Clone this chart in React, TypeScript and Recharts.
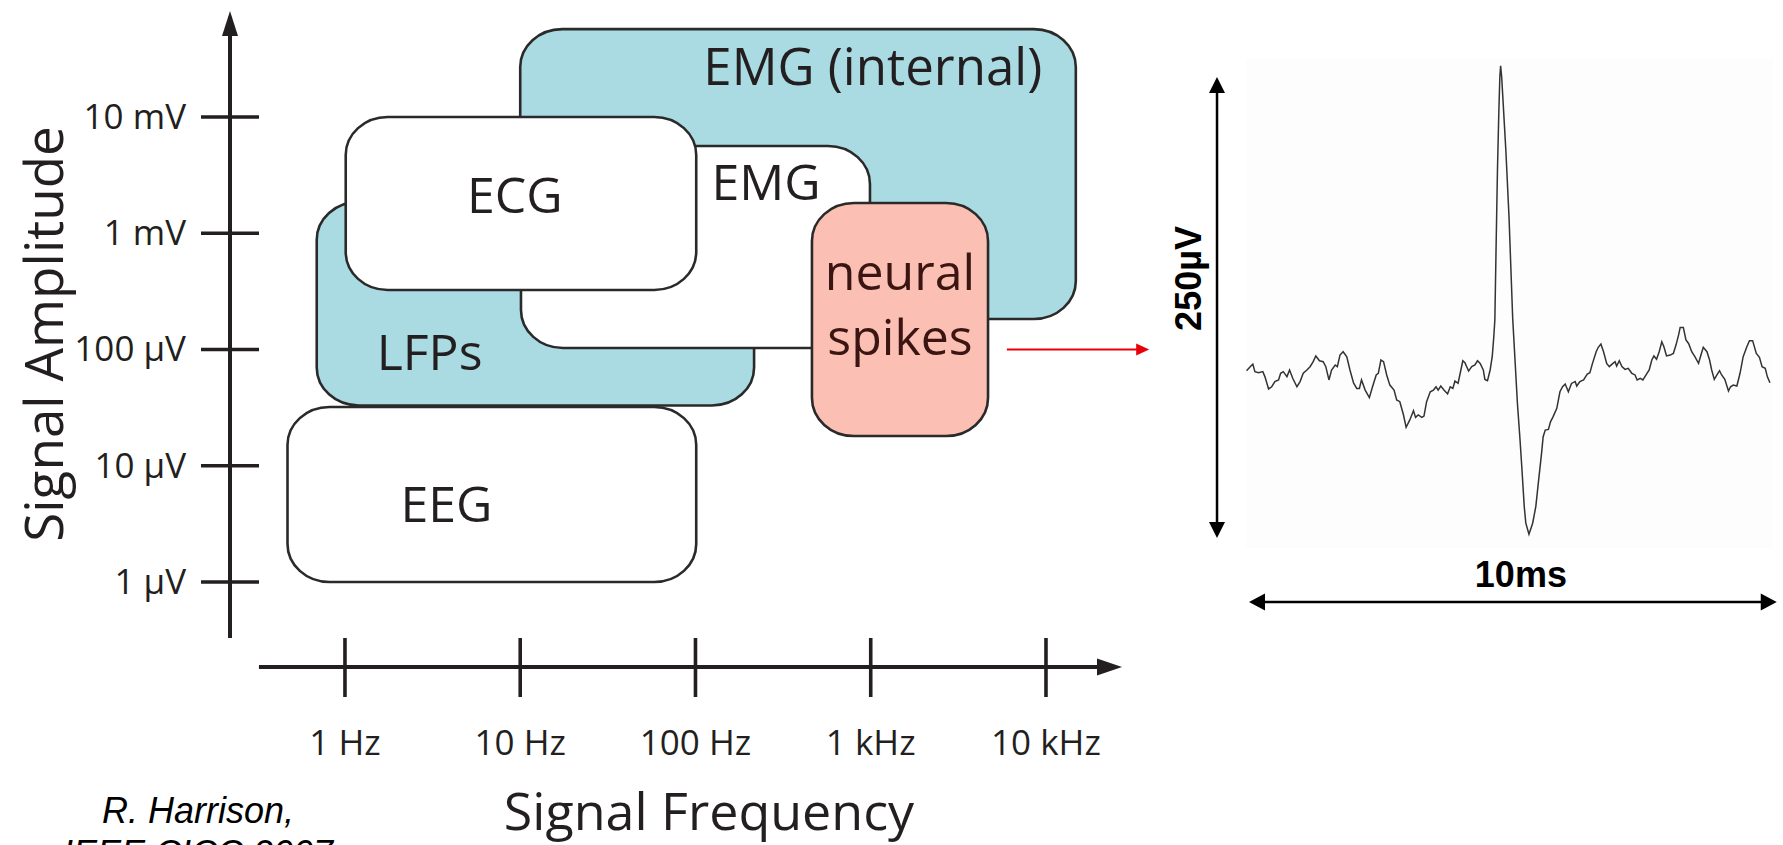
import React from "react";
import {
  ComposedChart,
  LineChart,
  Line,
  XAxis,
  YAxis,
  ReferenceArea,
  ReferenceLine
} from "recharts";

// axis ticks (log scales)
const freqTicks = [1, 10, 100, 1000, 10000];
const freqTickLabels = ["1 Hz", "10 Hz", "100 Hz", "1 kHz", "10 kHz"];
const ampTicks = [1, 10, 100, 1000, 10000]; // in µV
const ampTickLabels = ["1 μV", "10 μV", "100 μV", "1 mV", "10 mV"];

// signal bands, drawn in this order (later ones sit on top)
const bandNames = ["EMG (internal)", "LFPs", "EMG", "ECG", "EEG", "neural spikes"];
const bandFreqLo = [10, 0.69, 10.1, 1.01, 0.47, 462];
const bandFreqHi = [14800, 216, 990, 101, 101, 4670];
const bandAmpLo = [183, 33, 103, 325, 1, 18];
const bandAmpHi = [57000, 1860, 5630, 10000, 32, 1820];

// recorded spike, 10 ms window
const spikeTimeMs = [
  0.01, 0.08, 0.13, 0.17, 0.24, 0.32, 0.36, 0.43, 0.49, 0.55, 0.62, 0.66, 0.71, 0.78, 0.83, 0.89,
  0.97, 1.03, 1.09, 1.16, 1.22, 1.28, 1.33, 1.4, 1.47, 1.52, 1.58, 1.63, 1.7, 1.74, 1.79, 1.85,
  1.92, 1.98, 2.05, 2.11, 2.16, 2.2, 2.27, 2.35, 2.41, 2.48, 2.52, 2.57, 2.62, 2.68, 2.74, 2.82,
  2.87, 2.93, 3.0, 3.05, 3.12, 3.19, 3.23, 3.28, 3.35, 3.39, 3.44, 3.51, 3.57, 3.62, 3.66, 3.71,
  3.77, 3.84, 3.89, 3.94, 3.98, 4.04, 4.13, 4.17, 4.24, 4.3, 4.36, 4.41, 4.46, 4.52, 4.55, 4.6,
  4.65, 4.69, 4.72, 4.74, 4.765, 4.79, 4.815, 4.835, 4.85, 4.87, 4.89, 4.95, 5.01, 5.08, 5.17,
  5.22, 5.25, 5.3, 5.33, 5.39, 5.46, 5.52, 5.58, 5.63, 5.66, 5.7, 5.76, 5.8, 5.85, 5.92, 5.98,
  6.03, 6.08, 6.14, 6.2, 6.27, 6.3, 6.36, 6.43, 6.5, 6.55, 6.6, 6.67, 6.71, 6.76, 6.81, 6.87,
  6.92, 6.99, 7.03, 7.06, 7.11, 7.16, 7.22, 7.28, 7.35, 7.41, 7.45, 7.51, 7.56, 7.62, 7.68, 7.73,
  7.77, 7.82, 7.87, 7.92, 7.96, 8.01, 8.08, 8.14, 8.19, 8.24, 8.27, 8.33, 8.38, 8.43, 8.49, 8.55,
  8.62, 8.66, 8.71, 8.78, 8.83, 8.87, 8.92, 8.97, 9.02, 9.06, 9.12, 9.19, 9.23, 9.28, 9.35, 9.41,
  9.47, 9.54, 9.59, 9.65, 9.72, 9.78, 9.83, 9.89, 9.93, 9.98
];
const spikeMicroV = [
  0.7, 2.9, 4.3, 0.2, -0.4, 0.2, -2.5, -9.2, -8.0, -5.2, -4.3, -0.7, 0.2, -2.5, 1.1, -3.4,
  -8.0, -5.2, -0.7, 1.1, 2.9, 5.6, 8.7, 6.1, 5.6, 2.9, -4.3, 1.1, 3.8, 2.9, 9.2, 11.0,
  8.3, 1.1, -6.1, -8.9, -8.9, -4.3, -9.8, -13.9, -8.0, -1.6, -0.7, 6.5, 5.6, -1.6, -7.1, -9.8,
  -15.2, -16.1, -23.3, -30.0, -26.0, -21.0, -24.6, -23.3, -24.6, -23.9, -16.1, -10.7, -9.8, -8.0, -9.8, -7.6,
  -9.8, -11.9, -8.0, -8.9, -4.9, -6.1, 6.1, 5.1, 0.5, 2.9, 3.8, 6.1, 4.7, 1.1, -4.0, -4.7,
  1.1, 8.3, 19.2, 28.2, 70, 110, 140, 160, 166, 160, 150, 120, 84, 29, -17,
  -37, -50, -73, -82, -88, -82, -73, -57, -44, -35.1, -31.5, -31.1, -27.0, -24.2, -19.7, -10.7,
  -8.0, -6.5, -10.7, -6.2, -5.2, -7.6, -5.2, -4.3, -1.1, -0.4, 4.7, 11.0, 13.4, 15.2, 11.0, 4.7,
  2.9, 4.7, 5.6, 3.2, 6.1, 2.9, 1.4, 2.0, -0.7, -1.6, -4.3, -3.4, -4.3, -1.6, 1.1, 6.5,
  8.7, 6.9, 11.0, 16.4, 13.7, 8.7, 9.2, 10.1, 14.6, 20.1, 24.2, 24.2, 17.4, 15.5, 11.0, 8.3,
  4.7, 8.7, 13.4, 11.0, 6.5, 1.1, -4.0, -1.6, 0.7, -1.6, -4.0, -10.3, -8.0, -7.1, -7.6, -0.7,
  8.3, 13.7, 17.0, 17.0, 10.1, 8.0, 2.9, 2.0, -2.5, -5.8
];

const F_MIN = 0.2208;
const F_MAX = 27150;
const A_MIN = 0.1857;
const A_MAX = 81600;

const INK = "#231f20";
const SANS = "'Open Sans', 'Noto Sans', sans-serif";
const ARIAL = "'Liberation Sans', Arial, sans-serif";

const bandFill = ["#aadbe2", "#aadbe2", "#ffffff", "#ffffff", "#ffffff", "#fcbfb3"];
const bandLabelLayout: any[] = [
  { anchor: "end", dx: 522, dy: 56, lines: ["EMG (internal)"], size: 51 },
  { anchor: "start", dx: 60, dy: 168, lines: ["LFPs"] },
  { anchor: "middle", dx: 245, dy: 54, lines: ["EMG"] },
  { anchor: "middle", dx: 169, dy: 96, lines: ["ECG"] },
  { anchor: "middle", dx: 159, dy: 115, lines: ["EEG"] },
  { anchor: "middle", dx: 88, dy: 87, lines: ["neural", "spikes"], color: "#3a1512" }
];

function arrowHead(tx: number, ty: number, ux: number, uy: number, len: number, half: number, fill: string) {
  const bx = tx - ux * len;
  const by = ty - uy * len;
  const nx = -uy;
  const ny = ux;
  const pts = `${tx},${ty} ${bx + nx * half},${by + ny * half} ${bx - nx * half},${by - ny * half}`;
  return <polygon points={pts} fill={fill} />;
}

// line with arrow head(s); optional text drawn next to it
const arrowShape = (opt: any) => (props: any) => {
  const { x1, y1, x2, y2 } = props;
  const L = Math.hypot(x2 - x1, y2 - y1) || 1;
  const ux = (x2 - x1) / L;
  const uy = (y2 - y1) / L;
  const sx = opt.both ? x1 + ux * opt.len * 0.8 : x1;
  const sy = opt.both ? y1 + uy * opt.len * 0.8 : y1;
  const ex = x2 - ux * opt.len * 0.8;
  const ey = y2 - uy * opt.len * 0.8;
  return (
    <g>
      <line x1={sx} y1={sy} x2={ex} y2={ey} stroke={opt.color} strokeWidth={opt.width} />
      {arrowHead(x2, y2, ux, uy, opt.len, opt.half, opt.color)}
      {opt.both && arrowHead(x1, y1, -ux, -uy, opt.len, opt.half, opt.color)}
      {opt.text && opt.text(props)}
    </g>
  );
};

const bandShape = (i: number) => (props: any) => {
  const { x, y, width, height } = props;
  const lay = bandLabelLayout[i];
  return (
    <g>
      <rect
        x={x}
        y={y}
        width={width}
        height={height}
        rx={42}
        ry={38}
        fill={bandFill[i]}
        stroke="#2a2a2a"
        strokeWidth={2.6}
      />
      {lay.lines.map((ln: string, k: number) => (
        <text
          key={k}
          x={x + lay.dx}
          y={y + lay.dy + k * 65}
          textAnchor={lay.anchor}
          fontFamily={SANS}
          fontSize={lay.size || 50}
          fill={lay.color || INK}
        >
          {ln}
        </text>
      ))}
    </g>
  );
};

const FreqTick = (props: any) => {
  const { x, y, payload } = props;
  const idx = freqTicks.indexOf(payload.value);
  return (
    <g>
      <line x1={x} x2={x} y1={y - 29} y2={y + 30} stroke={INK} strokeWidth={3.6} />
      <text x={x} y={y + 88} textAnchor="middle" fontFamily={SANS} fontSize={35} fill={INK}>
        {freqTickLabels[idx]}
      </text>
    </g>
  );
};

const AmpTick = (props: any) => {
  const { x, y, payload } = props;
  const idx = ampTicks.indexOf(payload.value);
  return (
    <g>
      <line x1={x - 29} x2={x + 29} y1={y} y2={y} stroke={INK} strokeWidth={3.6} />
      <text x={x - 44} y={y + 12} textAnchor="end" fontFamily={SANS} fontSize={35} fill={INK}>
        {ampTickLabels[idx]}
      </text>
    </g>
  );
};

const FreqTitle = (props: any) => {
  const vb = props.viewBox || { x: 230, y: 667 };
  return (
    <text x={vb.x + 479} y={vb.y + 163} textAnchor="middle" fontFamily={SANS} fontSize={52} fill={INK}>
      Signal Frequency
    </text>
  );
};

const AmpTitle = (props: any) => {
  const vb = props.viewBox || { x: 170, y: 11 };
  const cx = vb.x - 107;
  const cy = vb.y + 323;
  return (
    <text
      x={cx}
      y={cy}
      transform={`rotate(-90 ${cx} ${cy})`}
      textAnchor="middle"
      fontFamily={SANS}
      fontSize={53}
      fill={INK}
    >
      Signal Amplitude
    </text>
  );
};

export default function App() {
  const spikeData = spikeTimeMs.map((t, i) => ({ t, v: spikeMicroV[i] }));

  return (
    <div style={{ position: "relative", width: 1783, height: 845, overflow: "hidden", background: "#fff" }}>
      <style>{"body{margin:0}"}</style>

      <div style={{ position: "absolute", left: 0, top: 0 }}>
        <ComposedChart width={1160} height={845} margin={{ top: 11, right: 38, bottom: 118, left: 170 }}>
          <XAxis
            type="number"
            scale="log"
            dataKey="f"
            domain={[F_MIN, F_MAX]}
            allowDataOverflow
            ticks={freqTicks}
            interval={0}
            tick={<FreqTick />}
            tickLine={false}
            axisLine={false}
            tickSize={0}
            tickMargin={0}
            height={60}
            label={{ content: <FreqTitle /> }}
          />
          <YAxis
            type="number"
            scale="log"
            domain={[A_MIN, A_MAX]}
            allowDataOverflow
            ticks={ampTicks}
            interval={0}
            tick={<AmpTick />}
            tickLine={false}
            axisLine={false}
            tickSize={0}
            tickMargin={0}
            width={60}
            label={{ content: <AmpTitle /> }}
          />
          {bandNames.map((name, i) => (
            <ReferenceArea
              key={name}
              x1={bandFreqLo[i]}
              x2={bandFreqHi[i]}
              y1={bandAmpLo[i]}
              y2={bandAmpHi[i]}
              ifOverflow="visible"
              shape={bandShape(i)}
            />
          ))}
          {/* amplitude axis arrow */}
          <ReferenceLine
            segment={[{ x: F_MIN, y: 0.33 }, { x: F_MIN, y: A_MAX }]}
            ifOverflow="visible"
            shape={arrowShape({ color: INK, width: 4, len: 25, half: 8 })}
          />
          {/* frequency axis arrow */}
          <ReferenceLine
            segment={[{ x: 0.323, y: A_MIN }, { x: F_MAX, y: A_MIN }]}
            ifOverflow="visible"
            shape={arrowShape({ color: INK, width: 4, len: 25, half: 8.5 })}
          />
          {/* pointer to the spike trace */}
          <ReferenceLine
            segment={[{ x: 5980, y: 100 }, { x: 38800, y: 100 }]}
            ifOverflow="visible"
            shape={arrowShape({ color: "#e8000b", width: 2, len: 13, half: 6 })}
          />
        </ComposedChart>
      </div>

      <div style={{ position: "absolute", left: 1160, top: 0 }}>
        <LineChart width={623} height={845} data={spikeData} margin={{ top: 60, right: 12, bottom: 305, left: 86 }}>
          <XAxis type="number" dataKey="t" domain={[0, 10]} allowDataOverflow hide />
          <YAxis type="number" domain={[-91.1, 169.2]} allowDataOverflow hide />
          <ReferenceArea
            x1={0}
            x2={10.05}
            y1={-95.4}
            y2={169.7}
            ifOverflow="visible"
            fill="#fdfdfd"
            fillOpacity={1}
            stroke="none"
          />
          <Line
            type="linear"
            dataKey="v"
            stroke="#333333"
            strokeWidth={1.5}
            dot={false}
            isAnimationActive={false}
          />
          <ReferenceLine
            segment={[{ x: -0.552, y: -90 }, { x: -0.552, y: 160 }]}
            ifOverflow="visible"
            shape={arrowShape({
              color: "#000",
              width: 2.5,
              len: 16,
              half: 8,
              both: true,
              text: (p: any) => {
                const tx = p.x1 - 16;
                const ty = (p.y1 + p.y2) / 2 - 29;
                return (
                  <text
                    x={tx}
                    y={ty}
                    transform={`rotate(-90 ${tx} ${ty})`}
                    textAnchor="middle"
                    fontFamily={ARIAL}
                    fontWeight="bold"
                    fontSize={36}
                    fill="#000"
                  >
                    250µV
                  </text>
                );
              }
            })}
          />
          <ReferenceLine
            segment={[{ x: 0.057, y: -124.7 }, { x: 10.11, y: -124.7 }]}
            ifOverflow="visible"
            shape={arrowShape({
              color: "#000",
              width: 2.5,
              len: 16,
              half: 8.5,
              both: true,
              text: (p: any) => (
                <text
                  x={(p.x1 + p.x2) / 2 + 8}
                  y={p.y1 - 15}
                  textAnchor="middle"
                  fontFamily={ARIAL}
                  fontWeight="bold"
                  fontSize={36}
                  fill="#000"
                >
                  10ms
                </text>
              )
            })}
          />
        </LineChart>
      </div>

      <div
        style={{
          position: "absolute",
          left: 0,
          top: 789,
          width: 396,
          textAlign: "center",
          fontFamily: ARIAL,
          fontStyle: "italic",
          fontSize: 36,
          lineHeight: "43px",
          color: "#000"
        }}
      >
        R. Harrison,
        <br />
        IEEE CICC 2007
      </div>
    </div>
  );
}
